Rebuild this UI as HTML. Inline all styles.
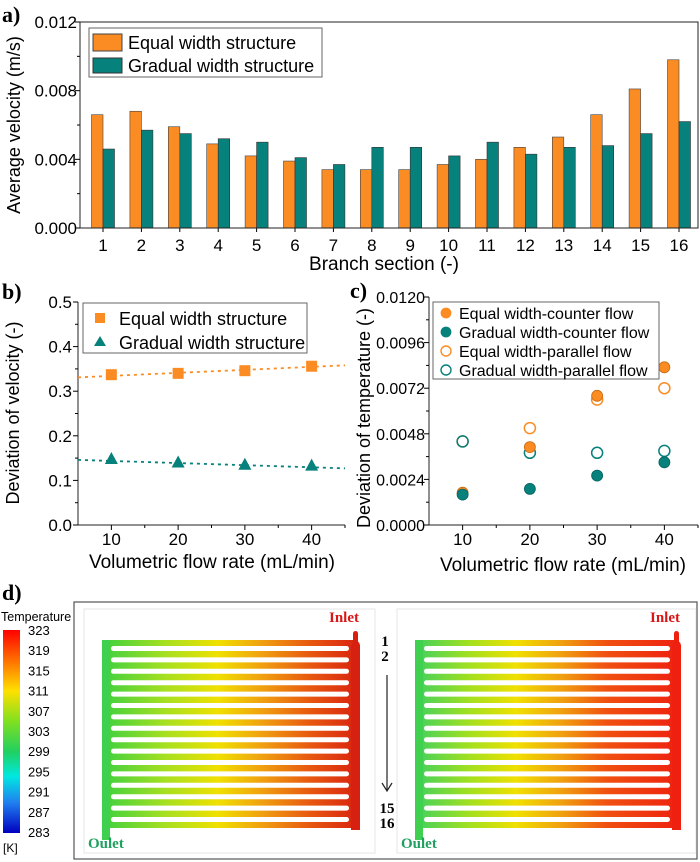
<!DOCTYPE html>
<html><head><meta charset="utf-8">
<style>
html,body{margin:0;padding:0;background:#fff;}
svg{display:block;}
text{font-family:"Liberation Sans Narrow","Liberation Sans",sans-serif;}
.lbl{font-family:"Liberation Serif",serif;font-weight:bold;}
</style></head>
<body>
<svg id="fig" width="700" height="862" viewBox="0 0 700 862" xmlns="http://www.w3.org/2000/svg">
  <defs>
    <linearGradient id="gL" x1="0" x2="1" y1="0" y2="0">
      <stop offset="0" stop-color="#3cd040"/><stop offset="0.25" stop-color="#a8e020"/>
      <stop offset="0.45" stop-color="#f0e000"/><stop offset="0.62" stop-color="#f0a010"/>
      <stop offset="0.8" stop-color="#e85a10"/><stop offset="1" stop-color="#d82010"/>
    </linearGradient>
    <linearGradient id="gR" x1="0" x2="1" y1="0" y2="0">
      <stop offset="0" stop-color="#40d060"/><stop offset="0.2" stop-color="#a0e020"/>
      <stop offset="0.38" stop-color="#f0e000"/><stop offset="0.55" stop-color="#f0a010"/>
      <stop offset="0.72" stop-color="#f05010"/><stop offset="1" stop-color="#ee2010"/>
    </linearGradient>
    <linearGradient id="gBar" x1="0" x2="0" y1="0" y2="1">
      <stop offset="0" stop-color="#ff0000"/><stop offset="0.15" stop-color="#ff7000"/>
      <stop offset="0.3" stop-color="#ffe000"/><stop offset="0.45" stop-color="#80e020"/>
      <stop offset="0.6" stop-color="#20d060"/><stop offset="0.72" stop-color="#00e8e0"/>
      <stop offset="0.85" stop-color="#2080f0"/><stop offset="1" stop-color="#0000c0"/>
    </linearGradient>
  </defs>
  <g id="pa"></g>
  <g id="pb"></g>
  <g id="pc"></g>
  <g id="pd"></g>
</svg>
<script>
// ---- Panel a data ----
const branchCategories = ["1","2","3","4","5","6","7","8","9","10","11","12","13","14","15","16"];
const equalVelocity = [0.0066,0.0068,0.0059,0.0049,0.0042,0.0039,0.0034,0.0034,0.0034,0.0037,0.0040,0.0047,0.0053,0.0066,0.0081,0.0098];
const gradualVelocity = [0.0046,0.0057,0.0055,0.0052,0.0050,0.0041,0.0037,0.0047,0.0047,0.0042,0.0050,0.0043,0.0047,0.0048,0.0055,0.0062];
const aTicks = [0, 0.004, 0.008, 0.012];
const aTickLabels = ["0.000","0.004","0.008","0.012"];
// ---- Panel b data ----
const flowRates = [10,20,30,40];
const devVelEqual = [0.337,0.340,0.346,0.356];
const devVelGradual = [0.148,0.140,0.135,0.133];
const fitEqual = [0.331,0.358];
const fitGradual = [0.146,0.127];
const bTicks = [0,0.1,0.2,0.3,0.4,0.5];
const bTickLabels = ["0.0","0.1","0.2","0.3","0.4","0.5"];
// ---- Panel c data ----
const devTempEqualCounter = [0.0017,0.0041,0.0068,0.0083];
const devTempGradualCounter = [0.0016,0.0019,0.0026,0.0033];
const devTempEqualParallel = [0.0044,0.0051,0.0066,0.0072];
const devTempGradualParallel = [0.0044,0.0038,0.0038,0.0039];
const cTicks = [0,0.0024,0.0048,0.0072,0.0096,0.012];
const cTickLabels = ["0.0000","0.0024","0.0048","0.0072","0.0096","0.0120"];
const colorbarLabels = ["323","319","315","311","307","303","299","295","291","287","283"];

const NS="http://www.w3.org/2000/svg";
function mk(parent,tag,attrs,txt){const e=document.createElementNS(NS,tag);for(const k in attrs)e.setAttribute(k,attrs[k]);if(txt!==undefined)e.textContent=txt;parent.appendChild(e);return e;}
const ORANGE="#fb8c24", TEAL="#07817c";

// ===== Panel a =====
(function(){
  const g=document.getElementById('pa');
  const L=80,R=698,T=22,B=228;
  const y=v=>B-(v/0.012)*(B-T);
  const x=i=>103+i*38.4;
  const t=mk(g,'text',{x:2,y:22,'font-size':22,class:'lbl'},'a)');
  
  branchCategories.forEach((c,i)=>{
    const b1=mk(g,'rect',{x:x(i)-11.5,y:y(equalVelocity[i]),width:11.5,height:B-y(equalVelocity[i]),fill:ORANGE,stroke:'#444','stroke-width':0.6});
    
    const b2=mk(g,'rect',{x:x(i),y:y(gradualVelocity[i]),width:11.5,height:B-y(gradualVelocity[i]),fill:TEAL,stroke:'#333','stroke-width':0.6});
    
    mk(g,'line',{x1:x(i),x2:x(i),y1:B,y2:B+4,stroke:'#000'});
    const tl=mk(g,'text',{x:x(i),y:B+23,'font-size':17,'text-anchor':'middle'},c);
    
  });
  mk(g,'rect',{x:L,y:T,width:R-L,height:B-T,fill:'none',stroke:'#222','stroke-width':1});
  for(let v=0;v<=0.0121;v+=0.002){const yy=y(v);mk(g,'line',{x1:L-(Math.abs(v/0.004-Math.round(v/0.004))<0.01?5:3),x2:L,y1:yy,y2:yy,stroke:'#000'});}
  aTicks.forEach((v,i)=>{const tl=mk(g,'text',{x:L-3,y:y(v)+6,'font-size':17,'text-anchor':'end'},aTickLabels[i]);
    });
  const yt=mk(g,'text',{x:0,y:0,'font-size':18,'text-anchor':'middle',transform:'translate(20,125) rotate(-90)'},'Average velocity (m/s)');
  
  const xt=mk(g,'text',{x:384,y:270,'font-size':19,'text-anchor':'middle'},'Branch section (-)');
  
  const lg=mk(g,'g',{});
  mk(lg,'rect',{x:89,y:28,width:233,height:49,fill:'#fff',stroke:'#666'});
  mk(lg,'rect',{x:93,y:34,width:29,height:17,fill:ORANGE,stroke:'#444'});
  mk(lg,'rect',{x:93,y:58,width:29,height:15,fill:TEAL,stroke:'#333'});
  mk(lg,'text',{x:128,y:49,'font-size':18},'Equal width structure');
  mk(lg,'text',{x:128,y:72,'font-size':18},'Gradual width structure');
})();

// ===== Panel b =====
(function(){
  const g=document.getElementById('pb');
  const L=78,R=345,T=302,B=525;
  const x=v=>L+(v-5)/40*(R-L);
  const y=v=>B-v/0.5*(B-T);
  const t=mk(g,'text',{x:2,y:299,'font-size':22,class:'lbl'},'b)');
  
  mk(g,'line',{x1:L,x2:L,y1:T,y2:B,stroke:'#222'});mk(g,'line',{x1:L,x2:R,y1:B,y2:B,stroke:'#222'});
  bTicks.forEach((v,i)=>{mk(g,'line',{x1:L-5,x2:L,y1:y(v),y2:y(v),stroke:'#000'});
    if(i<5)mk(g,'line',{x1:L-3,x2:L,y1:y(v+0.05),y2:y(v+0.05),stroke:'#000'});
    const tl=mk(g,'text',{x:L-6,y:y(v)+6,'font-size':17,'text-anchor':'end'},bTickLabels[i]);
    });
  flowRates.forEach(f=>{mk(g,'line',{x1:x(f),x2:x(f),y1:B,y2:B+5,stroke:'#000'});mk(g,'line',{x1:x(f+5),x2:x(f+5),y1:B,y2:B+3,stroke:'#000'});
    const tl=mk(g,'text',{x:x(f),y:B+20,'font-size':17,'text-anchor':'middle'},String(f));
    });
  const f1=mk(g,'line',{x1:x(5),x2:x(45),y1:y(fitEqual[0]),y2:y(fitEqual[1]),stroke:ORANGE,'stroke-width':1.8,'stroke-dasharray':'3,4'});
  
  const f2=mk(g,'line',{x1:x(5),x2:x(45),y1:y(fitGradual[0]),y2:y(fitGradual[1]),stroke:TEAL,'stroke-width':1.8,'stroke-dasharray':'3,4'});
  
  flowRates.forEach((f,i)=>{
    const s=mk(g,'rect',{x:x(f)-5.5,y:y(devVelEqual[i])-5.5,width:11,height:11,fill:ORANGE});
    
    const cx=x(f),cy=y(devVelGradual[i]);
    const tr=mk(g,'polygon',{points:`${cx},${cy-7} ${cx-6.5},${cy+5} ${cx+6.5},${cy+5}`,fill:TEAL});
    
  });
  const yt=mk(g,'text',{x:0,y:0,'font-size':18,'text-anchor':'middle',transform:'translate(19,413) rotate(-90)'},'Deviation of velocity (-)');
  
  const xt=mk(g,'text',{x:212,y:568,'font-size':19,'text-anchor':'middle'},'Volumetric flow rate (mL/min)');
  
  const lg=mk(g,'g',{});
  mk(lg,'rect',{x:83,y:303,width:224,height:50,fill:'#fff',stroke:'#666'});
  mk(lg,'rect',{x:95,y:313,width:10,height:10,fill:ORANGE});
  mk(lg,'polygon',{points:'100,336 94,346 106,346',fill:TEAL});
  mk(lg,'text',{x:119,y:325,'font-size':18},'Equal width structure');
  mk(lg,'text',{x:119,y:349,'font-size':18},'Gradual width structure');
})();

// ===== Panel c =====
(function(){
  const g=document.getElementById('pc');
  const L=429,R=698,T=297,B=525;
  const x=v=>L+(v-5)/40*(R-L);
  const y=v=>B-v/0.012*(B-T);
  const t=mk(g,'text',{x:350,y:298,'font-size':22,class:'lbl'},'c)');
  
  mk(g,'line',{x1:L,x2:L,y1:T,y2:B,stroke:'#222'});mk(g,'line',{x1:L,x2:R,y1:B,y2:B,stroke:'#222'});
  cTicks.forEach((v,i)=>{mk(g,'line',{x1:L-5,x2:L,y1:y(v),y2:y(v),stroke:'#000'});
    if(i<5)mk(g,'line',{x1:L-3,x2:L,y1:y(v+0.0012),y2:y(v+0.0012),stroke:'#000'});
    const tl=mk(g,'text',{x:L-4,y:y(v)+6,'font-size':16,'text-anchor':'end'},cTickLabels[i]);
    });
  flowRates.forEach(f=>{mk(g,'line',{x1:x(f),x2:x(f),y1:B,y2:B+5,stroke:'#000'});mk(g,'line',{x1:x(f+5),x2:x(f+5),y1:B,y2:B+3,stroke:'#000'});
    const tl=mk(g,'text',{x:x(f),y:B+20,'font-size':17,'text-anchor':'middle'},String(f));
    });
  function pts(arr,name,fill,stroke){flowRates.forEach((f,i)=>{
    const c=mk(g,'circle',{cx:x(f),cy:y(arr[i]),r:5.5,fill:fill,stroke:stroke,'stroke-width':fill==='none'?1.5:0.8});
    });}
  pts(devTempEqualParallel,'point-equal-parallel','none',ORANGE);
  pts(devTempGradualParallel,'point-gradual-parallel','none',TEAL);
  pts(devTempEqualCounter,'point-equal-counter',ORANGE,'#c86a10');
  pts(devTempGradualCounter,'point-gradual-counter',TEAL,'#056460');
  const yt=mk(g,'text',{x:0,y:0,'font-size':18,'text-anchor':'middle',transform:'translate(370,418) rotate(-90)'},'Deviation of temperature (-)');
  
  const xt=mk(g,'text',{x:563,y:571,'font-size':19,'text-anchor':'middle'},'Volumetric flow rate (mL/min)');
  
  const lg=mk(g,'g',{});
  mk(lg,'rect',{x:433,y:302,width:226,height:77,fill:'#fff',stroke:'#666'});
  const ent=[["Equal width-counter flow",ORANGE,ORANGE],["Gradual width-counter flow",TEAL,TEAL],["Equal width-parallel flow",'none',ORANGE],["Gradual width-parallel flow",'none',TEAL]];
  ent.forEach((e,i)=>{const yy=313+i*19;
    mk(lg,'circle',{cx:446,cy:yy,r:5,fill:e[1],stroke:e[2],'stroke-width':e[1]==='none'?1.4:0.8});
    mk(lg,'text',{x:459,y:yy+6,'font-size':16},e[0]);});
})();

// ===== Panel d =====
(function(){
  const g=document.getElementById('pd');
  const t=mk(g,'text',{x:2,y:600,'font-size':22,class:'lbl'},'d)');
  
  const cb=mk(g,'g',{});
  mk(cb,'text',{x:1,y:621,'font-size':12.5},'Temperature');
  mk(cb,'rect',{x:3,y:630,width:17,height:203,fill:'url(#gBar)'});
  colorbarLabels.forEach((l,i)=>{mk(cb,'text',{x:28,y:635+i*20.2,'font-size':13},l);});
  mk(cb,'text',{x:3,y:852,'font-size':12},'[K]');
  mk(g,'rect',{x:74,y:602,width:623,height:257,fill:'#fff',stroke:'#555','stroke-width':1.2});
  function plate(ox,w,grad,colR,name){
    const p=mk(g,'g',{});
    mk(p,'rect',{x:ox,y:609,width:w,height:244,fill:'#fff',stroke:'#e4e4e4'});
    const L=ox+18,R=ox+w-15;
    mk(p,'rect',{x:L,y:640,width:R-L,height:188,rx:6,fill:'url(#'+grad+')'});
    mk(p,'rect',{x:L,y:640,width:8,height:200,fill:'#40d050'});
    mk(p,'rect',{x:R-9,y:645,width:9,height:185,fill:colR});
    mk(p,'rect',{x:R-8,y:643,width:6,height:8,fill:colR});
    mk(p,'rect',{x:R-7,y:645-14,width:5,height:14,rx:2.5,fill:colR});
    for(let i=0;i<16;i++){mk(p,'rect',{x:L+9,y:646+i*11.4,width:R-L-20,height:5,rx:2.5,fill:'#fff'});}
    mk(p,'text',{x:R-16,y:622,'font-size':15,fill:'#d81818',class:'lbl','text-anchor':'middle','font-family':'Liberation Serif'},'Inlet');
    mk(p,'text',{x:ox+4,y:848,'font-size':15,fill:'#20a060',class:'lbl'},'Oulet');
  }
  plate(84,291,'gL','#d82010','heatmap-equal-width');
  plate(397,299,'gR','#ee2010','heatmap-gradual-width');
  const an=mk(g,'g',{});
  mk(an,'text',{x:385,y:646,'font-size':15,class:'lbl','text-anchor':'middle'},'1');
  mk(an,'text',{x:385,y:661,'font-size':15,class:'lbl','text-anchor':'middle'},'2');
  mk(an,'line',{x1:387,x2:387,y1:675,y2:790,stroke:'#222','stroke-width':1.2});
  mk(an,'path',{d:'M382,783 L387,791 L392,783',fill:'none',stroke:'#222','stroke-width':1.2});
  mk(an,'text',{x:387,y:813,'font-size':15,class:'lbl','text-anchor':'middle'},'15');
  mk(an,'text',{x:387,y:828,'font-size':15,class:'lbl','text-anchor':'middle'},'16');
})();
</script>
</body></html>
